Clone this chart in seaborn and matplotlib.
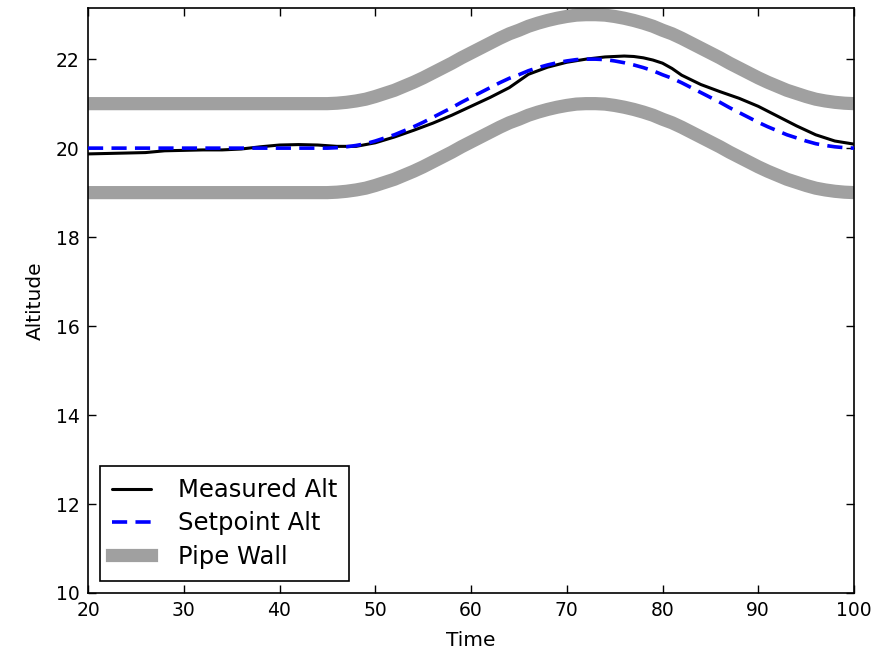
import matplotlib
matplotlib.use("Agg")
import matplotlib.pyplot as plt
import seaborn as sns
import pandas as pd

# measured altitude
meas_t = [20, 22, 24, 26, 28, 30, 32, 34, 36, 38, 40, 42, 44, 46, 48, 50,
          52, 54, 56, 58, 60, 62, 64, 66, 68, 70, 72, 74, 76, 77, 78, 79, 80, 81, 82,
          84, 86, 88, 90, 92, 94, 96, 98, 100]
meas_alt = [19.87, 19.88, 19.89, 19.90, 19.94, 19.95, 19.96, 19.96, 19.98, 20.03,
            20.07, 20.08, 20.07, 20.04, 20.04, 20.12, 20.25, 20.40, 20.56, 20.74,
            20.94, 21.14, 21.36, 21.66, 21.82, 21.93, 22.00, 22.05, 22.07, 22.06,
            22.03, 21.98, 21.91, 21.79, 21.64, 21.43, 21.27, 21.12, 20.94, 20.72,
            20.50, 20.30, 20.16, 20.09]

# setpoint altitude
set_t = [20, 30, 40, 45, 46, 47, 48, 49, 50, 51, 52, 53, 54, 55, 56, 57, 58, 59,
         60, 61, 62, 63, 64, 65, 66, 67, 68, 69, 70, 71, 72, 73, 74, 75, 76, 77,
         78, 79, 80, 81, 82, 83, 84, 85, 86, 87, 88, 89, 90, 91, 92, 93, 94, 95,
         96, 97, 98, 99, 100]
set_alt = [20.00, 20.00, 20.00, 20.00, 20.01, 20.03, 20.06, 20.10, 20.16, 20.23,
           20.30, 20.39, 20.48, 20.58, 20.69, 20.80, 20.91, 21.03, 21.14, 21.25,
           21.36, 21.47, 21.57, 21.65, 21.74, 21.81, 21.87, 21.92, 21.96, 21.99,
           22.00, 22.00, 21.99, 21.96, 21.92, 21.87, 21.81, 21.74, 21.65, 21.57,
           21.47, 21.36, 21.25, 21.14, 21.03, 20.91, 20.80, 20.69, 20.58, 20.48,
           20.39, 20.30, 20.23, 20.16, 20.10, 20.06, 20.03, 20.01, 20.00]

# pipe half-width around the setpoint
pipe_radius = 1.0

sns.set_style("ticks")
plt.rcParams['font.family'] = ['DejaVu Sans']
plt.rcParams['text.color'] = 'black'
plt.rcParams['axes.labelcolor'] = 'black'
plt.rcParams['xtick.color'] = 'black'
plt.rcParams['ytick.color'] = 'black'
plt.rcParams['xtick.direction'] = 'in'
plt.rcParams['ytick.direction'] = 'in'
plt.rcParams['xtick.top'] = True
plt.rcParams['ytick.right'] = True

meas_df = pd.DataFrame({'t': meas_t, 'alt': meas_alt})
set_df = pd.DataFrame({'t': set_t, 'alt': set_alt})
hi_df = pd.DataFrame({'t': set_t, 'alt': [v + pipe_radius for v in set_alt]})
lo_df = pd.DataFrame({'t': set_t, 'alt': [v - pipe_radius for v in set_alt]})

fig = plt.figure(figsize=(8.87, 6.53), dpi=100)
ax = fig.add_axes([88/887, 60/653, 766/887, 585/653])

sns.lineplot(ax=ax, data=meas_df, x='t', y='alt', color='black', lw=2.2,
             label='Measured Alt', zorder=3)
sns.lineplot(ax=ax, data=set_df, x='t', y='alt', color='#0000ff', lw=2.6,
             linestyle='--', label='Setpoint Alt', zorder=4)
ax.lines[-1].set_dashes([4.2, 2.3])
sns.lineplot(ax=ax, data=hi_df, x='t', y='alt', color='#a0a0a0', lw=9.5,
             label='Pipe Wall', zorder=2)
sns.lineplot(ax=ax, data=lo_df, x='t', y='alt', color='#a0a0a0', lw=9.5,
             zorder=2)
for ln in ax.lines[-2:]:
    ln.set_solid_capstyle('projecting')

ax.set_xlim(20, 100)
ax.set_ylim(10, 23.15)
ax.set_xticks([20, 30, 40, 50, 60, 70, 80, 90, 100])
ax.set_yticks([10, 12, 14, 16, 18, 20, 22])
ax.set_xlabel('Time', fontsize=14.5, labelpad=8)
ax.set_ylabel('Altitude', fontsize=14.5, labelpad=8)
ax.tick_params(axis='both', which='major', labelsize=13.5, length=6, width=1,
               pad=6)
for s in ax.spines.values():
    s.set_color('black')
    s.set_linewidth(1.2)

leg = ax.legend(loc='lower left', fontsize=17.5, fancybox=False, framealpha=1,
                edgecolor='black', handlelength=1.6, handletextpad=1.1,
                borderpad=0.5, labelspacing=0.38, borderaxespad=0.5)
leg.get_frame().set_linewidth(1.2)
for h in leg.legend_handles[2:]:
    h.set_solid_capstyle('projecting')

fig.savefig('out.png', dpi=100, facecolor='white')
